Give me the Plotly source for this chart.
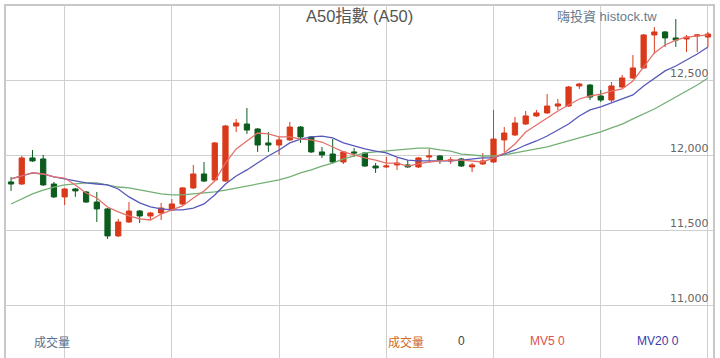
import plotly.graph_objects as go

# ---------------- data ----------------
idx = list(range(66))
open_ = [11827, 11813, 11987, 11980, 11813, 11727, 11780, 11760, 11693, 11647,
         11467, 11560, 11633, 11600, 11620, 11640, 11680, 11787, 11880, 11840,
         11833, 12200, 12213, 12180, 12087, 12073, 12107, 12193, 12127, 12027,
         12013, 11960, 12027, 12020, 11933, 11927, 11940, 11940, 11927, 11993,
         12000, 11967, 11980, 11927, 11947, 11960, 12107, 12140, 12213, 12267,
         12287, 12333, 12333, 12467, 12473, 12400, 12373, 12460, 12520, 12587,
         12807, 12827, 12787, 12780, 12800, 12793]
high = [11860, 12000, 12040, 12007, 11827, 11787, 11787, 11767, 11760, 11653,
        11580, 11693, 11640, 11627, 11687, 11713, 11793, 11940, 11960, 12093,
        12207, 12247, 12320, 12187, 12160, 12127, 12227, 12200, 12133, 12060,
        12113, 12033, 12053, 12027, 11953, 11993, 11987, 11973, 11993, 12047,
        12007, 11993, 11987, 11953, 12020, 12307, 12193, 12260, 12300, 12307,
        12413, 12380, 12467, 12487, 12480, 12440, 12493, 12540, 12673, 12813,
        12860, 12833, 12913, 12807, 12813, 12827]
low = [11767, 11807, 11960, 11800, 11720, 11673, 11727, 11687, 11560, 11447,
       11460, 11553, 11553, 11573, 11573, 11633, 11673, 11780, 11827, 11833,
       11827, 12160, 12147, 12027, 12027, 12007, 12100, 12087, 12020, 11987,
       11953, 11947, 11993, 11927, 11887, 11920, 11907, 11920, 11920, 11953,
       11947, 11947, 11927, 11893, 11940, 11953, 12027, 12133, 12207, 12260,
       12280, 12307, 12327, 12447, 12373, 12360, 12360, 12453, 12513, 12580,
       12680, 12727, 12727, 12693, 12693, 12727]
close = [11813, 11987, 11967, 11807, 11727, 11780, 11767, 11693, 11647, 11467,
         11560, 11633, 11600, 11620, 11653, 11680, 11787, 11880, 11833, 12087,
         12200, 12220, 12173, 12073, 12073, 12107, 12193, 12127, 12027, 12007,
         11960, 12027, 12020, 11933, 11920, 11933, 11953, 11927, 11987, 12000,
         11973, 11973, 11933, 11940, 11967, 12113, 12153, 12220, 12267, 12287,
         12333, 12347, 12460, 12480, 12393, 12373, 12467, 12520, 12587, 12807,
         12827, 12787, 12773, 12793, 12807, 12813]

ma_red = [11847, 11867, 11887, 11880, 11860, 11853, 11807, 11753, 11720, 11660,
          11627, 11600, 11580, 11573, 11613, 11640, 11667, 11720, 11767, 11833,
          11953, 12047, 12100, 12153, 12147, 12127, 12127, 12113, 12107, 12093,
          12060, 12027, 12007, 11987, 11973, 11953, 11953, 11933, 11947, 11960,
          11967, 11973, 11973, 11967, 11960, 11987, 12020, 12080, 12160, 12207,
          12253, 12300, 12340, 12380, 12400, 12413, 12433, 12447, 12500, 12593,
          12687, 12740, 12773, 12793, 12800, 12807]
ma_blue = [11847, 11867, 11887, 11880, 11860, 11847, 11833, 11820, 11813, 11807,
           11780, 11727, 11687, 11660, 11647, 11640, 11640, 11653, 11680, 11740,
           11813, 11867, 11907, 11953, 12000, 12040, 12087, 12113, 12127, 12133,
           12120, 12087, 12067, 12047, 12033, 12020, 11993, 11973, 11967, 11967,
           11967, 11967, 11973, 11980, 11987, 11987, 12013, 12040, 12073, 12100,
           12133, 12173, 12213, 12267, 12307, 12327, 12353, 12380, 12407, 12467,
           12520, 12567, 12600, 12640, 12680, 12727]
ma_green = [11680, 11713, 11747, 11773, 11793, 11807, 11813, 11820, 11820, 11807,
            11793, 11787, 11773, 11760, 11747, 11740, 11740, 11747, 11753, 11760,
            11773, 11787, 11800, 11813, 11827, 11840, 11860, 11887, 11907, 11933,
            11953, 11980, 12000, 12020, 12027, 12033, 12040, 12047, 12053, 12053,
            12040, 12033, 12013, 12007, 12000, 12000, 12007, 12020, 12033, 12047,
            12060, 12080, 12100, 12120, 12140, 12160, 12187, 12213, 12247, 12280,
            12313, 12353, 12393, 12433, 12473, 12520]

y_ticks = [11000, 11500, 12000, 12500, 13000]
y_tick_labels = ["11,000", "11,500", "12,000", "12,500"]
x_grid = [5, 15, 25, 35, 45, 55, 65]

title_text = "A50指數 (A50)"
watermark = "嗨投資 histock.tw"

# ---------------- styles ----------------
RED = "#d93a1c"
GREEN = "#0b5c1d"
LATIN = "Liberation Sans, Noto Sans CJK TC, sans-serif"
CJK = "Noto Sans CJK TC, Liberation Sans, sans-serif"

fig = go.Figure()
fig.add_trace(go.Candlestick(
    x=idx, open=open_, high=high, low=low, close=close,
    increasing=dict(line=dict(color=RED, width=1), fillcolor=RED),
    decreasing=dict(line=dict(color=GREEN, width=1), fillcolor=GREEN),
    whiskerwidth=0, showlegend=False, hoverinfo="skip"))

fig.add_trace(go.Scatter(x=idx, y=ma_green, mode="lines",
                         line=dict(color="#74b074", width=1.3), showlegend=False, hoverinfo="skip"))
fig.add_trace(go.Scatter(x=idx, y=ma_blue, mode="lines",
                         line=dict(color="#5858bc", width=1.3), showlegend=False, hoverinfo="skip"))
fig.add_trace(go.Scatter(x=idx, y=ma_red, mode="lines",
                         line=dict(color="#e5706a", width=1.3), showlegend=False, hoverinfo="skip"))

ann = []
for v, t in zip(y_ticks, y_tick_labels):
    ann.append(dict(x=0.9975, xref="paper", y=v, yref="y", text=t, showarrow=False,
                    xanchor="right", yanchor="bottom", yshift=-1,
                    font=dict(family="DejaVu Sans", size=11, color="#666666")))

ann.append(dict(x=0.5, xref="paper", y=0.972, yref="paper", text=title_text, showarrow=False,
                xanchor="center", yanchor="middle",
                font=dict(family=LATIN, size=16.5, color="#555555")))
ann.append(dict(x=0.777, xref="paper", y=0.971, yref="paper", text=watermark, showarrow=False,
                xanchor="left", yanchor="middle",
                font=dict(family=LATIN, size=13, color="#6a7b8e")))

leg_y = 0.048
ann.append(dict(x=0.037, xref="paper", y=leg_y, yref="paper", text="成交量", showarrow=False,
                xanchor="left", yanchor="middle", font=dict(family=CJK, size=12, color="#5b6f8c")))
ann.append(dict(x=0.537, xref="paper", y=leg_y, yref="paper", text="成交量", showarrow=False,
                xanchor="left", yanchor="middle", font=dict(family=CJK, size=12, color="#d2691e")))
ann.append(dict(x=0.6436, xref="paper", y=leg_y, yref="paper", text="0", showarrow=False,
                xanchor="center", yanchor="middle", font=dict(family=LATIN, size=12, color="#444444")))
ann.append(dict(x=0.739, xref="paper", y=leg_y, yref="paper", text="MV5 0", showarrow=False,
                xanchor="left", yanchor="middle", font=dict(family=LATIN, size=12, color="#e05050")))
ann.append(dict(x=0.889, xref="paper", y=leg_y, yref="paper", text="MV20 0", showarrow=False,
                xanchor="left", yanchor="middle", font=dict(family=LATIN, size=12, color="#3a3aaa")))

fig.update_layout(
    width=720, height=358,
    margin=dict(l=6, r=7, t=6, b=0),
    paper_bgcolor="white", plot_bgcolor="white",
    annotations=ann,
    showlegend=False,
    hovermode=False,
    xaxis=dict(range=[-0.47, 65.47], tickvals=x_grid, showticklabels=False,
               showgrid=True, gridcolor="#cfcfcf", gridwidth=1, zeroline=False,
               showline=True, linecolor="#c8c8c8", linewidth=2, mirror=True,
               rangeslider=dict(visible=False), ticks=""),
    yaxis=dict(range=[10653, 13000], tickvals=y_ticks, showticklabels=False, side="right",
               showgrid=True, gridcolor="#cfcfcf", gridwidth=1, zeroline=False,
               showline=True, linecolor="#c8c8c8", linewidth=2, mirror=True, ticks=""),
)

fig.write_html("out.html", config={"displayModeBar": False},
               post_script="document.body.style.margin='0';document.body.style.overflow='hidden';")
